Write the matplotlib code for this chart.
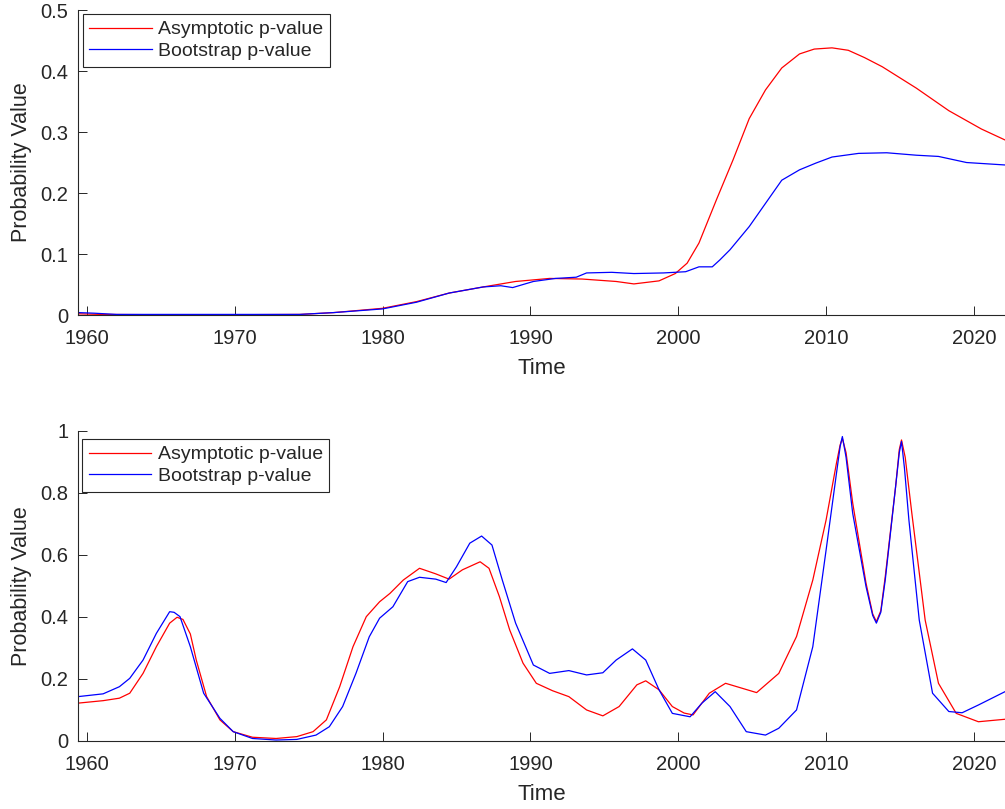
import matplotlib
matplotlib.use("Agg")
import matplotlib.pyplot as plt

plt.rcParams['font.family'] = ['Liberation Sans', 'DejaVu Sans']

# top panel: asymptotic vs bootstrap p-values
top_t_asy = [1959.4, 1961, 1965, 1970, 1974.4, 1976.7, 1980.0, 1982.3, 1984.5, 1986.8,
             1989.0, 1991.3, 1993.5, 1995.8, 1997.0, 1998.7, 1999.8, 2000.6, 2001.4,
             2002.6, 2003.7, 2004.8, 2005.9, 2007.0, 2008.2, 2009.2, 2010.4, 2011.5,
             2012.6, 2013.8, 2016.1, 2018.3, 2020.5, 2022.1]
top_asy = [0.002, 0.001, 0.0005, 0.0005, 0.001, 0.004, 0.011, 0.022, 0.036, 0.046,
           0.055, 0.060, 0.059, 0.055, 0.051, 0.056, 0.068, 0.085, 0.118,
           0.19, 0.254, 0.322, 0.369, 0.405, 0.428, 0.436, 0.438, 0.434,
           0.422, 0.407, 0.372, 0.335, 0.305, 0.287]

top_t_boot = [1959.4, 1960.5, 1962, 1970, 1974.4, 1976.7, 1980.0, 1982.3, 1984.5, 1986.8,
              1988.0, 1988.8, 1990.2, 1991.7, 1993.1, 1993.8, 1995.5, 1997.0, 1999.0,
              2000.5, 2001.4, 2002.3, 2002.8, 2003.5, 2004.8, 2005.9, 2007.0, 2008.2,
              2009.3, 2010.4, 2012.2, 2014.1, 2016.1, 2017.6, 2019.5, 2022.1]
top_boot = [0.004, 0.003, 0.001, 0.001, 0.001, 0.004, 0.010, 0.021, 0.036, 0.046,
            0.048, 0.045, 0.055, 0.060, 0.062, 0.069, 0.070, 0.068, 0.069,
            0.071, 0.079, 0.079, 0.090, 0.107, 0.145, 0.183, 0.221, 0.238,
            0.249, 0.259, 0.265, 0.266, 0.262, 0.260, 0.250, 0.246]

# bottom panel
bot_t_asy = [1959.4, 1961.1, 1962.2, 1962.9, 1963.8, 1964.7, 1965.6, 1966.1, 1966.5,
             1967.0, 1967.4, 1968.1, 1969.0, 1969.9, 1971.2, 1972.8, 1974.2, 1975.3,
             1976.2, 1977.1, 1978.0, 1978.9, 1979.8, 1980.5, 1981.4, 1982.5, 1983.6,
             1984.5, 1985.4, 1986.6, 1987.2, 1987.9, 1988.6, 1989.5, 1990.4, 1991.5,
             1992.6, 1993.8, 1994.9, 1996.0, 1997.2, 1997.8, 1998.7, 1999.6, 2000.4,
             2001.0, 2002.1, 2003.2, 2005.3, 2006.8, 2008.0, 2009.1, 2010.0, 2010.7,
             2010.95, 2011.1, 2011.35, 2011.8, 2012.7, 2013.15, 2013.4, 2013.7, 2014.0,
             2014.7, 2014.95, 2015.1, 2015.35, 2015.8, 2016.7, 2017.6, 2018.8, 2020.3,
             2022.1]
bot_asy = [0.122, 0.130, 0.138, 0.154, 0.218, 0.304, 0.380, 0.399, 0.392,
           0.345, 0.261, 0.143, 0.068, 0.030, 0.012, 0.008, 0.014, 0.030,
           0.068, 0.175, 0.304, 0.401, 0.449, 0.476, 0.519, 0.557, 0.539,
           0.522, 0.552, 0.578, 0.557, 0.466, 0.358, 0.251, 0.186, 0.162,
           0.143, 0.100, 0.081, 0.111, 0.181, 0.194, 0.165, 0.111, 0.090,
           0.084, 0.154, 0.186, 0.156, 0.218, 0.337, 0.519, 0.713, 0.896,
           0.955, 0.976, 0.930, 0.767, 0.509, 0.410, 0.385, 0.420, 0.530,
           0.820, 0.940, 0.971, 0.915, 0.734, 0.390, 0.186, 0.089, 0.062,
           0.070]

bot_t_boot = [1959.4, 1961.1, 1962.2, 1962.9, 1963.8, 1964.7, 1965.6, 1965.9, 1966.3,
              1967.0, 1967.9, 1969.0, 1969.9, 1971.2, 1972.8, 1974.2, 1975.5, 1976.4,
              1977.3, 1978.2, 1979.1, 1979.8, 1980.7, 1981.7, 1982.5, 1983.6, 1984.3,
              1985.0, 1985.9, 1986.7, 1987.4, 1988.1, 1989.0, 1990.2, 1991.3, 1992.6,
              1993.8, 1994.9, 1995.8, 1996.9, 1997.8, 1998.7, 1999.6, 2000.8, 2001.6,
              2002.5, 2003.5, 2004.6, 2005.9, 2006.8, 2008.0, 2009.1, 2010.0, 2010.7,
              2010.95, 2011.1, 2011.35, 2011.8, 2012.7, 2013.15, 2013.4, 2013.7, 2014.0,
              2014.7, 2014.95, 2015.1, 2015.3, 2015.6, 2016.3, 2017.2, 2018.3, 2019.2,
              2020.3, 2022.1]
bot_boot = [0.143, 0.152, 0.175, 0.202, 0.261, 0.347, 0.417, 0.415, 0.401,
            0.304, 0.154, 0.073, 0.030, 0.008, 0.003, 0.005, 0.019, 0.046,
            0.111, 0.218, 0.336, 0.396, 0.433, 0.514, 0.528, 0.522, 0.511,
            0.562, 0.638, 0.661, 0.632, 0.519, 0.380, 0.245, 0.218, 0.227,
            0.213, 0.220, 0.261, 0.297, 0.261, 0.165, 0.089, 0.078, 0.122,
            0.159, 0.111, 0.030, 0.019, 0.041, 0.100, 0.304, 0.616, 0.863,
            0.950, 0.982, 0.915, 0.734, 0.498, 0.405, 0.380, 0.415, 0.519,
            0.820, 0.930, 0.966, 0.880, 0.713, 0.390, 0.154, 0.095, 0.091,
            0.116, 0.159]

xticks = [1960, 1970, 1980, 1990, 2000, 2010, 2020]
dark = '#262626'

fig = plt.figure(figsize=(10.05, 8.09), dpi=100)
ax1 = fig.add_axes([0.0776, 0.6106, 0.9224, 0.3770])
ax2 = fig.add_axes([0.0776, 0.0841, 0.9224, 0.3832])

panels = [
    (ax1, top_t_asy, top_asy, top_t_boot, top_boot, (0, 0.5), [0, 0.1, 0.2, 0.3, 0.4, 0.5],
     ['0', '0.1', '0.2', '0.3', '0.4', '0.5'], (0.005, 0.987)),
    (ax2, bot_t_asy, bot_asy, bot_t_boot, bot_boot, (0, 1), [0, 0.2, 0.4, 0.6, 0.8, 1],
     ['0', '0.2', '0.4', '0.6', '0.8', '1'], (0.004, 0.974)),
]

for ax, ta, va, tb, vb, ylim, yt, ytl, lpos in panels:
    ax.plot(ta, va, color='#ff0000', lw=0.9, label='Asymptotic p-value')
    ax.plot(tb, vb, color='#0000ff', lw=0.9, label='Bootstrap p-value')
    ax.set_xlim(1959.4, 2022.1)
    ax.set_ylim(*ylim)
    ax.set_xticks(xticks)
    ax.set_yticks(yt)
    ax.set_yticklabels(ytl)
    for s in ['top', 'right']:
        ax.spines[s].set_visible(False)
    for s in ['left', 'bottom']:
        ax.spines[s].set_color(dark)
        ax.spines[s].set_linewidth(0.8)
    ax.tick_params(direction='in', length=6.5, width=0.7, color=dark,
                   labelsize=14.5, labelcolor=dark, pad=7)
    ax.tick_params(axis='x', pad=10)
    ax.set_xlabel('Time', fontsize=16, color=dark, labelpad=7)
    ax.set_ylabel('Probability Value', fontsize=15.5, color=dark, labelpad=6)
    leg = ax.legend(loc='upper left', bbox_to_anchor=lpos, borderaxespad=0,
                    fontsize=14, handlelength=3.2, handletextpad=0.35,
                    labelspacing=0.2, borderpad=0.35, fancybox=False,
                    framealpha=1, edgecolor=dark)
    leg.get_frame().set_linewidth(0.8)
    for txt in leg.get_texts():
        txt.set_color(dark)

fig.savefig('out.png', dpi=100)
